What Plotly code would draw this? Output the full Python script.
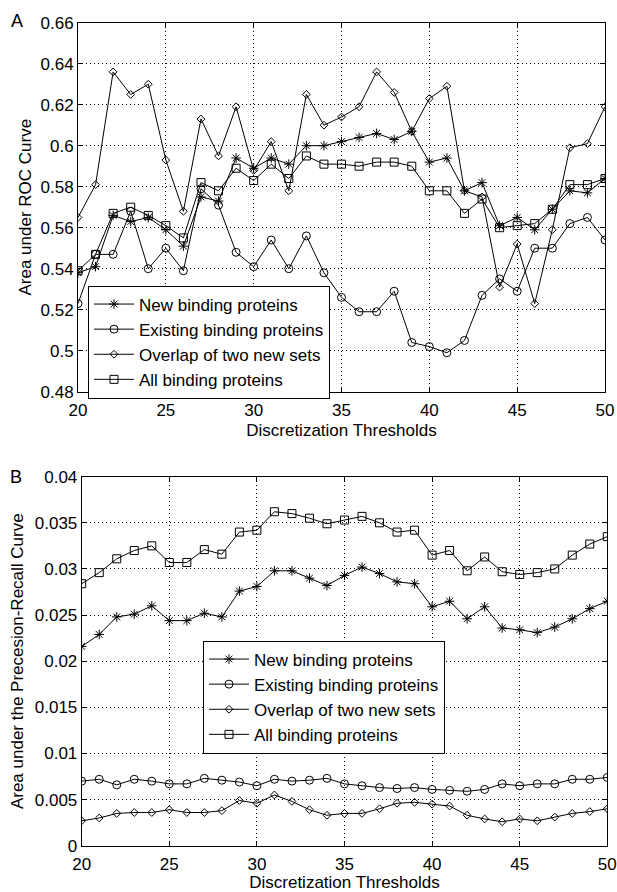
import plotly.graph_objects as go

thresholds = list(range(20, 51))

# Panel A: Area under ROC curve
roc_new = [0.538, 0.541, 0.566, 0.563, 0.565, 0.559, 0.551, 0.575, 0.573, 0.594, 0.589,
           0.594, 0.591, 0.600, 0.600, 0.602, 0.604, 0.606, 0.603, 0.607, 0.592, 0.594,
           0.578, 0.582, 0.561, 0.565, 0.559, 0.569, 0.578, 0.577, 0.584]
roc_existing = [0.523, 0.547, 0.547, 0.568, 0.540, 0.550, 0.539, 0.579, 0.571, 0.548, 0.541,
                0.554, 0.540, 0.556, 0.538, 0.526, 0.519, 0.519, 0.529, 0.504, 0.502, 0.499,
                0.505, 0.527, 0.535, 0.529, 0.550, 0.550, 0.562, 0.565, 0.554]
roc_overlap = [0.565, 0.581, 0.636, 0.625, 0.630, 0.593, 0.568, 0.613, 0.595, 0.619, 0.588,
               0.602, 0.578, 0.625, 0.610, 0.614, 0.619, 0.636, 0.626, 0.607, 0.623, 0.629,
               0.578, 0.575, 0.531, 0.552, 0.523, 0.559, 0.599, 0.601, 0.619]
roc_all = [0.539, 0.547, 0.567, 0.570, 0.566, 0.561, 0.555, 0.582, 0.578, 0.589, 0.583,
           0.591, 0.584, 0.595, 0.591, 0.591, 0.590, 0.592, 0.592, 0.590, 0.578, 0.578,
           0.567, 0.574, 0.560, 0.561, 0.562, 0.569, 0.581, 0.581, 0.584]

# Panel B: Area under precision-recall curve
pr_new = [0.0216, 0.0229, 0.0248, 0.0251, 0.0260, 0.0244, 0.0244, 0.0252, 0.0248, 0.0276, 0.0281,
          0.0298, 0.0298, 0.0290, 0.0282, 0.0293, 0.0302, 0.0295, 0.0286, 0.0284, 0.0259, 0.0265,
          0.0246, 0.0259, 0.0236, 0.0234, 0.0231, 0.0237, 0.0246, 0.0257, 0.0265]
pr_existing = [0.0070, 0.0072, 0.0066, 0.0072, 0.0070, 0.0067, 0.0067, 0.0073, 0.0071, 0.0069, 0.0065,
               0.0072, 0.0070, 0.0071, 0.0073, 0.0067, 0.0065, 0.0063, 0.0062, 0.0063, 0.0061, 0.0060,
               0.0059, 0.0061, 0.0067, 0.0065, 0.0067, 0.0067, 0.0072, 0.0072, 0.0074]
pr_overlap = [0.0027, 0.0030, 0.0035, 0.0036, 0.0036, 0.0039, 0.0036, 0.0036, 0.0038, 0.0049, 0.0046,
              0.0055, 0.0048, 0.0039, 0.0033, 0.0035, 0.0035, 0.0040, 0.0046, 0.0047, 0.0045, 0.0043,
              0.0033, 0.0029, 0.0026, 0.0029, 0.0027, 0.0031, 0.0035, 0.0037, 0.0040]
pr_all = [0.0284, 0.0296, 0.0311, 0.0320, 0.0325, 0.0307, 0.0307, 0.0321, 0.0316, 0.0340, 0.0342,
          0.0362, 0.0360, 0.0355, 0.0349, 0.0353, 0.0357, 0.0350, 0.0340, 0.0342, 0.0315, 0.0320,
          0.0298, 0.0313, 0.0297, 0.0294, 0.0296, 0.0300, 0.0315, 0.0327, 0.0335]

series_names = ["New binding proteins", "Existing binding proteins",
                "Overlap of two new sets", "All binding proteins"]

x_ticks = [20, 25, 30, 35, 40, 45, 50]
x_ticktext = ["20", "25", "30", "35", "40", "45", "50"]
roc_ticks = [0.48, 0.50, 0.52, 0.54, 0.56, 0.58, 0.60, 0.62, 0.64, 0.66]
roc_ticktext = ["0.48", "0.5", "0.52", "0.54", "0.56", "0.58", "0.6", "0.62", "0.64", "0.66"]
pr_ticks = [0, 0.005, 0.01, 0.015, 0.02, 0.025, 0.03, 0.035, 0.04]
pr_ticktext = ["0", "0.005", "0.01", "0.015", "0.02", "0.025", "0.03", "0.035", "0.04"]

FONT = "Liberation Sans, Arial, sans-serif"
FS = 17

markers = [
    dict(symbol="asterisk-open", size=8, color="black", line=dict(width=1, color="black")),
    dict(symbol="circle-open", size=8, color="black", line=dict(width=1, color="black")),
    dict(symbol="diamond-open", size=6, color="black", line=dict(width=1, color="black")),
    dict(symbol="square-open", size=8, color="black", line=dict(width=1, color="black")),
]

fig = go.Figure()

for name, ys, mk in zip(series_names, [roc_new, roc_existing, roc_overlap, roc_all], markers):
    fig.add_trace(go.Scatter(x=thresholds, y=ys, mode="lines+markers", name=name,
                             line=dict(color="black", width=1), marker=mk,
                             xaxis="x", yaxis="y", legend="legend"))

for name, ys, mk in zip(series_names, [pr_new, pr_existing, pr_overlap, pr_all], markers):
    fig.add_trace(go.Scatter(x=thresholds, y=ys, mode="lines+markers", name=name,
                             line=dict(color="black", width=1), marker=mk,
                             xaxis="x2", yaxis="y2", legend="legend2"))

W, H = 617, 892
axis_common = dict(showline=True, linecolor="black", linewidth=1, mirror="ticks",
                   ticks="inside", ticklen=5, tickcolor="black",
                   showgrid=True, gridcolor="black", gridwidth=1, griddash="1px,3px",
                   zeroline=False, tickfont=dict(family=FONT, size=FS, color="black"),
                   automargin=False)

fig.update_layout(
    width=W, height=H,
    margin=dict(l=0, r=0, t=0, b=0),
    paper_bgcolor="white", plot_bgcolor="white",
    font=dict(family=FONT, size=FS, color="black"),
    xaxis=dict(domain=[78 / W, 605 / W], range=[20, 50], anchor="y",
               tickvals=x_ticks, ticktext=x_ticktext, ticklabelstandoff=3,
               title=dict(text="Discretization Thresholds", standoff=5,
                          font=dict(family=FONT, size=FS)), **axis_common),
    yaxis=dict(domain=[1 - 391.7 / H, 1 - 22.7 / H], range=[0.48, 0.66], anchor="x",
               tickvals=roc_ticks, ticktext=roc_ticktext,
               title=dict(text="Area under ROC Curve", standoff=4,
                          font=dict(family=FONT, size=FS)), **axis_common),
    xaxis2=dict(domain=[81.7 / W, 607.3 / W], range=[20, 50], anchor="y2",
                tickvals=x_ticks, ticktext=x_ticktext, ticklabelstandoff=3,
                title=dict(text="Discretization Thresholds", standoff=5,
                           font=dict(family=FONT, size=FS)), **axis_common),
    yaxis2=dict(domain=[1 - 845.7 / H, 1 - 476.7 / H], range=[0, 0.04], anchor="x2",
                tickvals=pr_ticks, ticktext=pr_ticktext,
                title=dict(text="Area under the Precesion-Recall Curve", standoff=6,
                           font=dict(family=FONT, size=FS)), **axis_common),
    legend=dict(x=88 / W, y=1 - 285.5 / H, xanchor="left", yanchor="top",
                bgcolor="white", bordercolor="black", borderwidth=1,
                font=dict(family=FONT, size=FS, color="black"),
                tracegroupgap=0, itemwidth=40),
    legend2=dict(x=203 / W, y=1 - 640.5 / H, xanchor="left", yanchor="top",
                 bgcolor="white", bordercolor="black", borderwidth=1,
                 font=dict(family=FONT, size=FS, color="black"),
                 tracegroupgap=0, itemwidth=40),
    showlegend=True,
    annotations=[
        dict(text="A", x=16.5 / W, y=1 - 21 / H, xref="paper", yref="paper",
             xanchor="center", yanchor="middle", showarrow=False,
             font=dict(family=FONT, size=18, color="black")),
        dict(text="B", x=15.5 / W, y=1 - 477.5 / H, xref="paper", yref="paper",
             xanchor="center", yanchor="middle", showarrow=False,
             font=dict(family=FONT, size=18, color="black")),
    ],
)

fig.write_html("out.html")
